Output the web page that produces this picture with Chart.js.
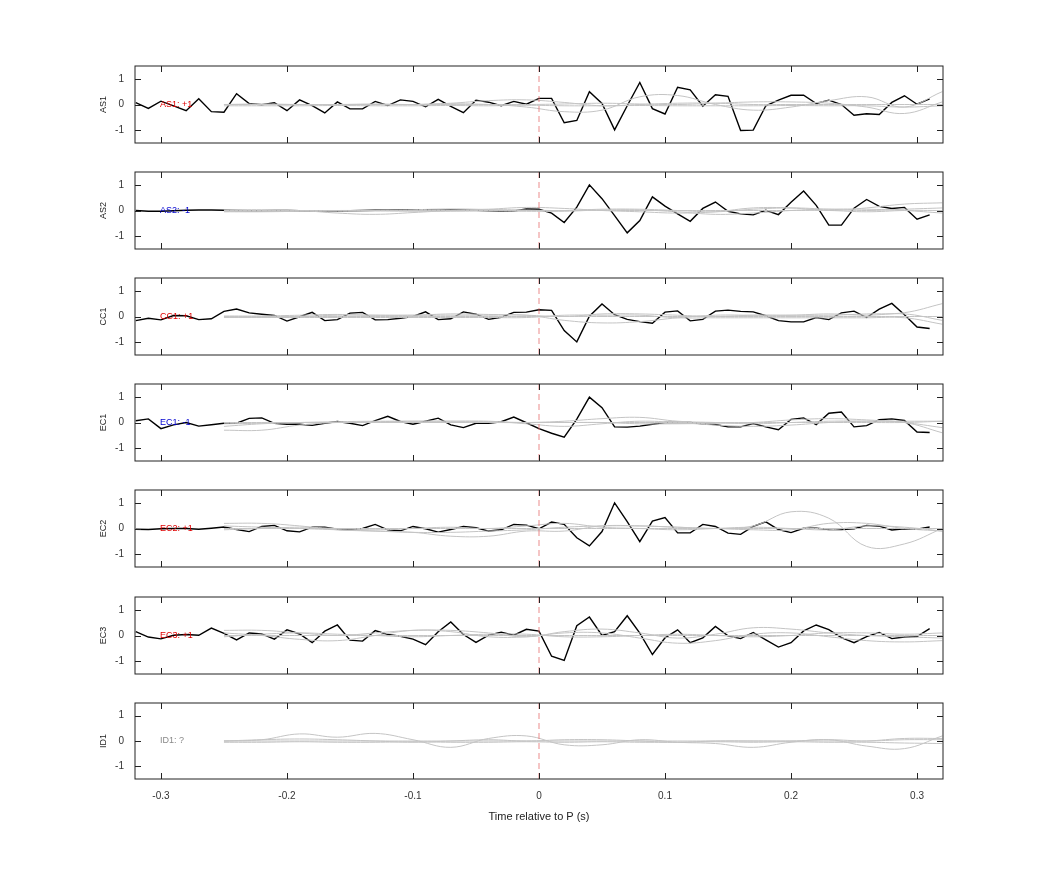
<!DOCTYPE html>
<html>
<head>
<meta charset="utf-8">
<script src="https://cdn.jsdelivr.net/npm/chart.js@4/dist/chart.umd.min.js"></script>
<style>
  body { margin: 0; background: #fff; }
  .panel { position: absolute; left: 98px; width: 862px; }
</style>
</head>
<body>
<div id="wrap"></div>
<script>
// black trace: one sample every 10 ms from -0.32 s to 0.31 s
const startTime = -0.32;
const step = 0.01;

const stations = ['AS1', 'AS2', 'CC1', 'EC1', 'EC2', 'EC3', 'ID1'];
const polarity = ['+1', '-1', '+1', '-1', '+1', '+1', '?'];

const as1 = [0.07, -0.15, 0.13, -0.05, -0.24, 0.22, -0.28, -0.3, 0.42, 0.04, -0.01, 0.07, -0.24, 0.18, -0.04, -0.33, 0.1, -0.17, -0.17, 0.12, -0.04, 0.18, 0.12, -0.09, 0.2, -0.07, -0.32, 0.17, 0.09, -0.05, 0.12, 0.01, 0.24,
  0.24, -0.71, -0.62, 0.5, 0.04, -0.99, -0.05, 0.86, -0.16, -0.37, 0.67, 0.57, -0.07, 0.38, 0.32, -1.01, -1.0, -0.05, 0.17, 0.36, 0.36, 0.04, 0.17, 0, -0.42, -0.36, -0.39, 0.08, 0.34, 0.01, 0.22];
const as2 = [0, -0.03, -0.03, -0.01, 0.01, 0.02, 0.02, 0.01, 0, -0.01, -0.01, 0, 0, -0.01, -0.02, -0.02, -0.03, -0.01, 0, 0.01, 0.01, 0.02, 0.03, 0.03, 0.01, 0.02, 0.02, 0.01, -0.01, -0.03, -0.02, 0.06, 0.05,
  -0.1, -0.47, 0.13, 1.0, 0.46, -0.2, -0.87, -0.39, 0.53, 0.17, -0.13, -0.42, 0.08, 0.33, -0.03, -0.13, -0.17, 0.01, -0.16, 0.32, 0.76, 0.2, -0.57, -0.57, 0.09, 0.43, 0.16, 0.08, 0.12, -0.34, -0.17];
const cc1 = [-0.16, -0.07, -0.13, 0.04, 0.03, -0.12, -0.09, 0.2, 0.29, 0.14, 0.09, 0.04, -0.18, -0.01, 0.16, -0.16, -0.12, 0.13, 0.16, -0.13, -0.12, -0.07, 0, 0.18, -0.12, -0.09, 0.18, 0.09, -0.11, -0.03, 0.16, 0.17, 0.26,
  0.24, -0.55, -0.99, 0.01, 0.49, 0.07, -0.11, -0.2, -0.26, 0.17, 0.22, -0.17, -0.11, 0.21, 0.25, 0.2, 0.18, 0.03, -0.16, -0.21, -0.21, -0.04, -0.12, 0.14, 0.21, -0.04, 0.29, 0.51, 0.07, -0.41, -0.47];
const ec1 = [0.07, 0.14, -0.24, -0.09, 0, -0.14, -0.09, -0.03, -0.03, 0.16, 0.18, -0.03, -0.07, -0.07, -0.11, -0.03, 0.04, -0.03, -0.12, 0.07, 0.24, 0.04, -0.07, 0.05, 0.17, -0.09, -0.2, -0.03, -0.03, 0.03, 0.21, -0.01, -0.24,
  -0.42, -0.57, 0.13, 0.99, 0.58, -0.17, -0.18, -0.14, -0.07, 0, 0, 0, -0.05, -0.08, -0.17, -0.17, -0.04, -0.17, -0.28, 0.12, 0.18, -0.08, 0.36, 0.41, -0.17, -0.12, 0.11, 0.14, 0.08, -0.37, -0.39];
const ec2 = [-0.03, -0.04, -0.01, 0, 0, -0.03, 0.01, 0.06, -0.04, -0.12, 0.08, 0.12, -0.09, -0.13, 0.05, 0.05, -0.03, -0.04, 0, 0.16, -0.05, -0.09, 0.08, -0.01, -0.14, -0.04, 0.08, 0.03, -0.1, -0.05, 0.16, 0.13, -0.01,
  0.25, 0.16, -0.36, -0.68, -0.12, 1.0, 0.27, -0.51, 0.29, 0.43, -0.17, -0.17, 0.16, 0.08, -0.18, -0.23, 0.08, 0.26, -0.04, -0.16, 0.01, 0.01, -0.04, -0.04, -0.01, 0.12, 0.09, -0.06, -0.01, -0.03, 0.06];
const ec3 = [0.15, -0.06, -0.13, 0.01, 0.04, 0.01, 0.29, 0.08, -0.17, 0.1, 0.06, -0.14, 0.22, 0.06, -0.28, 0.17, 0.41, -0.18, -0.22, 0.19, 0.04, -0.03, -0.14, -0.36, 0.15, 0.53, 0.04, -0.27, 0.01, 0.13, 0.01, 0.24, 0.17,
  -0.81, -0.97, 0.38, 0.72, 0, 0.15, 0.77, 0.09, -0.74, -0.09, 0.22, -0.28, -0.09, 0.35, -0.01, -0.12, 0.12, -0.17, -0.45, -0.28, 0.18, 0.41, 0.23, -0.08, -0.28, -0.04, 0.12, -0.12, -0.06, -0.04, 0.27];
const traces = [as1, as2, cc1, ec1, ec2, ec3, null];

// gray synthetic traces, knots every 30 ms from -0.25 s to 0.32 s
const grayTimes = [-0.25, -0.22, -0.19, -0.16, -0.13, -0.10, -0.07, -0.04, -0.01, 0.02, 0.05, 0.08, 0.11, 0.14, 0.17, 0.20, 0.23, 0.26, 0.29, 0.32];
const grayAS1 = [
  [0, 0, 0, 0, 0, 0, 0.05, 0.15, 0.18, 0.08, -0.05, 0, 0.05, 0.05, 0, 0, 0, 0, 0, 0],
  [0, 0, 0, 0, 0, 0, 0, 0, -0.1, -0.28, -0.22, 0.3, 0.35, 0, -0.22, -0.1, 0.15, 0.3, -0.1, 0.5],
  [-0.05, -0.05, -0.05, -0.04, -0.05, -0.05, -0.04, -0.05, -0.03, -0.05, -0.05, -0.04, -0.05, -0.05, -0.05, -0.04, -0.05, -0.05, -0.1, -0.05],
  [0, 0.02, 0, 0, 0.02, 0, 0.03, 0, 0, 0.02, 0.05, 0.02, 0, 0.05, 0.1, 0.1, 0.05, -0.1, -0.35, 0.1]
];
const grayAS2 = [
  [-0.05, -0.05, -0.03, 0, 0, 0.03, 0.06, 0.04, 0.02, 0, 0.05, 0.05, 0, -0.05, 0.05, 0.1, 0.05, 0, 0.05, 0.1],
  [0.02, 0.03, 0, -0.1, -0.15, -0.08, 0, 0.05, 0.12, 0.08, 0, -0.05, -0.1, -0.05, 0.1, 0.1, 0, 0.1, 0.25, 0.3],
  [0, 0, 0, 0, 0, 0, 0, 0, 0, 0, 0, 0, 0, 0, 0, 0, 0, -0.05, 0, 0],
  [-0.03, -0.03, -0.02, -0.03, -0.02, -0.03, -0.03, -0.02, -0.03, -0.03, 0.02, 0.02, -0.05, -0.15, -0.1, 0, 0.05, 0.05, 0, -0.1]
];
const grayCC1 = [
  [0, 0, 0, 0, 0, 0, 0, 0, 0, 0, 0, 0, 0, 0, 0, 0, 0, 0, 0, 0],
  [-0.04, -0.03, 0, 0.05, 0.05, 0.05, 0.05, 0.05, 0.05, -0.15, -0.25, -0.2, -0.05, 0.05, 0.05, 0.05, 0.05, 0.1, 0.15, 0.5],
  [-0.04, -0.04, -0.04, -0.04, -0.04, -0.04, -0.04, -0.04, -0.04, 0.05, 0.05, 0.05, -0.05, -0.05, -0.05, -0.05, -0.05, -0.05, -0.05, -0.3],
  [0.02, 0.02, 0.05, 0.08, 0.05, 0.05, 0.1, 0.08, 0.05, 0, 0.1, 0.1, 0.05, 0, 0.05, 0.05, 0.1, 0.05, 0.1, -0.15]
];
const grayEC1 = [
  [-0.3, -0.3, -0.1, 0, 0, 0, 0, 0, 0, 0.05, 0.15, 0.2, 0.05, 0, -0.05, 0, 0.05, 0.05, 0, -0.4],
  [-0.05, -0.03, 0, 0, 0.03, 0.05, 0.05, 0.03, 0, 0, 0, -0.05, -0.05, -0.03, 0, 0.1, 0.15, 0.1, 0, -0.2],
  [0, 0, 0, 0, 0, 0, 0, 0, 0, 0, 0, 0, 0, 0, 0, 0, 0, 0, 0, 0.05],
  [-0.15, -0.05, 0, 0.03, 0.05, 0.05, 0.05, 0.05, -0.05, -0.15, -0.05, 0.05, 0, -0.1, -0.15, -0.1, 0, 0.05, 0.05, 0.05]
];
const grayEC2 = [
  [0.2, 0.2, 0.1, -0.05, -0.1, -0.15, -0.15, -0.1, -0.05, 0.05, 0.1, 0.1, 0.05, 0, 0.1, 0.65, 0.4, -0.7, -0.6, 0],
  [0.1, 0.05, 0, -0.05, -0.1, -0.15, -0.3, -0.3, -0.1, -0.1, 0.1, 0.1, 0.05, 0, -0.05, -0.05, 0.2, 0.2, 0, -0.1],
  [0, 0, 0, 0, 0, 0, 0, 0, 0, 0, 0, 0, 0, 0, 0, 0, 0, 0, 0, 0],
  [-0.05, 0, 0.05, 0, -0.05, 0, 0.05, 0, 0.1, 0.2, 0.05, 0, -0.05, 0, 0.05, 0, -0.05, 0.1, 0.05, -0.1]
];
const grayEC3 = [
  [0.2, 0.2, 0.1, 0, 0.1, 0.2, 0.2, 0.1, -0.05, 0.15, 0.25, 0.1, -0.1, 0.05, 0.3, 0.25, 0.1, 0, -0.05, -0.1],
  [0, 0, 0, 0, 0, 0, 0, 0, 0, 0, 0, 0, 0, 0, 0, 0, 0, 0, 0, 0],
  [0.1, 0, -0.15, -0.2, 0, 0.2, 0.15, -0.05, -0.05, 0.1, 0.1, -0.1, -0.3, -0.2, 0.05, 0.1, -0.05, -0.2, -0.25, -0.2],
  [-0.05, 0.05, 0.1, 0.05, 0, -0.05, 0, 0.05, 0.05, -0.05, -0.05, 0, 0.05, 0, -0.05, 0, 0.1, 0.1, 0.05, 0.1]
];
const grayID1 = [
  [0, 0.05, 0.28, 0.15, 0.3, 0.05, -0.25, 0.1, 0.2, -0.15, -0.15, 0.05, -0.05, -0.1, -0.25, -0.05, 0.05, -0.2, -0.3, 0.2],
  [0, 0.05, 0.08, 0.05, 0, -0.05, 0, 0.05, 0, 0.05, 0.05, 0, -0.05, 0, 0, 0, 0.05, 0, 0.05, 0.05],
  [-0.05, -0.05, -0.03, -0.05, -0.05, -0.03, -0.05, -0.05, -0.03, -0.05, -0.03, -0.05, -0.05, -0.03, -0.05, -0.03, -0.05, -0.05, -0.08, -0.1],
  [0, 0, 0, 0, 0, 0, 0, 0, 0, 0, 0, 0, 0, 0, 0, 0, 0, 0, 0.1, 0.1]
];
const grays = [grayAS1, grayAS2, grayCC1, grayEC1, grayEC2, grayEC3, grayID1];

const xTicks = [-0.3, -0.2, -0.1, 0, 0.1, 0.2, 0.3];
const yTicks = [-1, 0, 1];
const panelTops = [66, 172, 278, 384, 490, 597, 703];

// box, inward ticks, zero marker and polarity label
const framePlugin = {
    id: 'frame',
    afterDatasetsDraw(chart, args, opts) {
        const { ctx, chartArea: a, scales } = chart;
        ctx.save();
        // dashed line at P arrival
        const x0 = scales.x.getPixelForValue(0);
        ctx.strokeStyle = 'rgba(230,110,110,0.8)';
        ctx.lineWidth = 1;
        ctx.setLineDash([6, 4]);
        ctx.beginPath();
        ctx.moveTo(x0, a.top); ctx.lineTo(x0, a.bottom);
        ctx.stroke();
        ctx.setLineDash([]);

        ctx.strokeStyle = '#222';
        ctx.lineWidth = 1;
        ctx.strokeRect(a.left, a.top, a.right - a.left, a.bottom - a.top);
        ctx.beginPath();
        xTicks.forEach(v => {
            const x = Math.round(scales.x.getPixelForValue(v)) + 0.5;
            ctx.moveTo(x, a.top); ctx.lineTo(x, a.top + 6);
            ctx.moveTo(x, a.bottom); ctx.lineTo(x, a.bottom - 6);
        });
        yTicks.forEach(v => {
            const y = Math.round(scales.y.getPixelForValue(v)) + 0.5;
            ctx.moveTo(a.left, y); ctx.lineTo(a.left + 6, y);
            ctx.moveTo(a.right, y); ctx.lineTo(a.right - 6, y);
        });
        ctx.stroke();

        ctx.font = '9px "Liberation Sans", sans-serif';
        ctx.fillStyle = opts.color;
        ctx.textBaseline = 'middle';
        ctx.fillText(opts.label, scales.x.getPixelForValue(-0.3) - 1, scales.y.getPixelForValue(0));
        ctx.restore();
    }
};

const wrap = document.getElementById('wrap');

stations.forEach((name, i) => {
    const last = i === stations.length - 1;
    const div = document.createElement('div');
    div.className = 'panel';
    div.style.top = (panelTops[i] - 9) + 'px';
    div.style.height = (last ? 130 : 95) + 'px';
    const canvas = document.createElement('canvas');
    div.appendChild(canvas);
    wrap.appendChild(div);

    const datasets = grays[i].map(g => ({
        data: g.map((v, k) => ({ x: grayTimes[k], y: v })),
        borderColor: '#c4c4c4',
        borderWidth: 1,
        pointRadius: 0,
        tension: 0.4
    }));
    if (traces[i]) {
        datasets.push({
            data: traces[i].map((v, k) => ({ x: startTime + k * step, y: v })),
            borderColor: '#000',
            borderWidth: 1.4,
            pointRadius: 0,
            tension: 0
        });
    }

    const pol = polarity[i];
    const labelColor = pol === '+1' ? '#e00000' : pol === '-1' ? '#0000d0' : '#888';

    new Chart(canvas, {
        type: 'line',
        data: { datasets: datasets },
        options: {
            responsive: true,
            maintainAspectRatio: false,
            animation: false,
            layout: { padding: { top: 0, right: 17, bottom: 0, left: 0 } },
            plugins: {
                legend: { display: false },
                tooltip: { enabled: false },
                frame: { label: name + ': ' + pol, color: labelColor }
            },
            scales: {
                x: {
                    type: 'linear',
                    min: -0.3206,
                    max: 0.3206,
                    display: last,
                    grid: { display: false },
                    border: { display: false },
                    afterBuildTicks: s => { s.ticks = xTicks.map(v => ({ value: v })); },
                    afterFit: s => { s.height = last ? 45 : 0; },
                    ticks: {
                        padding: 3,
                        color: '#333',
                        font: { family: 'Liberation Sans', size: 10 },
                        callback: v => String(Math.round(v * 10) / 10)
                    },
                    title: {
                        display: true,
                        text: 'Time relative to P (s)',
                        color: '#222',
                        font: { family: 'Liberation Sans', size: 11 },
                        padding: { top: 0, bottom: 0 }
                    }
                },
                y: {
                    min: -1.5,
                    max: 1.5,
                    grid: { display: false },
                    border: { display: false },
                    afterBuildTicks: s => { s.ticks = yTicks.map(v => ({ value: v })); },
                    afterFit: s => { s.width = 37; },
                    ticks: {
                        padding: 3,
                        autoSkip: false,
                        color: '#333',
                        font: { family: 'Liberation Sans', size: 10 }
                    },
                    title: {
                        display: true,
                        text: name,
                        color: '#222',
                        font: { family: 'Liberation Sans', size: 9 },
                        padding: 0
                    }
                }
            }
        },
        plugins: [framePlugin]
    });
});
</script>
</body>
</html>
